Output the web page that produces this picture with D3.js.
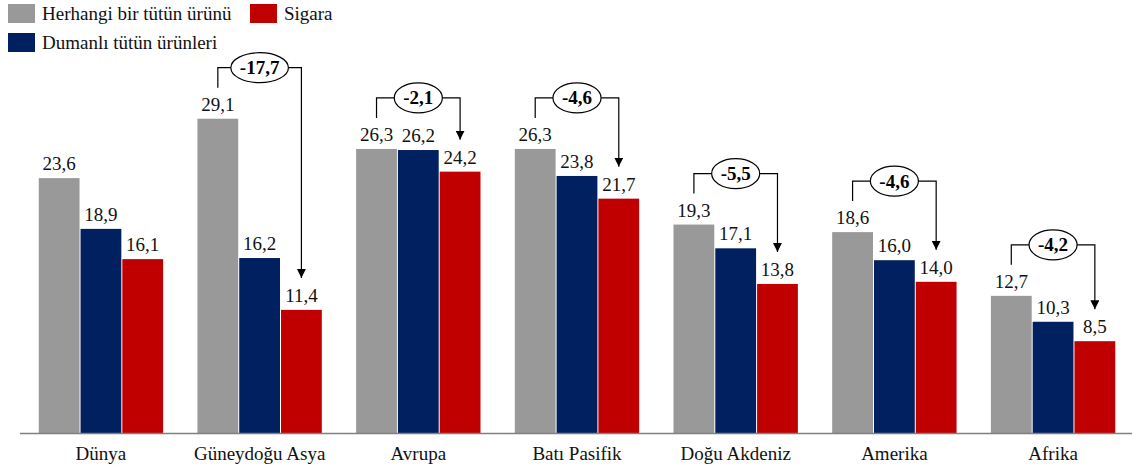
<!DOCTYPE html>
<html>
<head>
<meta charset="utf-8">
<script src="https://cdn.jsdelivr.net/npm/d3@7"></script>
<style>
  html, body { margin: 0; padding: 0; background: #fff; }
  svg { display: block; }
  svg text { font-family: "Liberation Serif", "Times New Roman", serif; }
</style>
</head>
<body>
<svg id="chart" width="1132" height="471"></svg>
<script>
// Regions and tobacco-use prevalence (%)
const categories = ["Dünya", "Güneydoğu Asya", "Avrupa", "Batı Pasifik", "Doğu Akdeniz", "Amerika", "Afrika"];
const seriesNames = ["Herhangi bir tütün ürünü", "Dumanlı tütün ürünleri", "Sigara"];
const anyTobacco = [23.6, 29.1, 26.3, 26.3, 19.3, 18.6, 12.7];
const smokedTobacco = [18.9, 16.2, 26.2, 23.8, 17.1, 16.0, 10.3];
const cigarettes = [16.1, 11.4, 24.2, 21.7, 13.8, 14.0, 8.5];
// Gap between any tobacco and cigarettes (null = no callout)
const gapLabels = [null, "-17,7", "-2,1", "-4,6", "-5,5", "-4,6", "-4,2"];

const colors = ["#999999", "#002060", "#C00000"];
const seriesValues = [anyTobacco, smokedTobacco, cigarettes];
const fmt = v => d3.format(".1f")(v).replace(".", ",");
const serif = "\"Liberation Serif\", \"Times New Roman\", serif";

const svg = d3.select("#chart");
const baseY = 433;

const x0 = d3.scaleBand().domain(categories).range([20, 1134]).paddingInner(0.21).paddingOuter(0.115);
const x1 = d3.scaleBand().domain(d3.range(3)).range([0, x0.bandwidth()]).padding(0);
const y = d3.scaleLinear().domain([0, 40]).range([baseY, baseY - 40 * 10.8]);

const fontSize = 19;

// Bars
const groups = svg.append("g").selectAll("g")
  .data(categories)
  .join("g")
  .attr("transform", d => `translate(${x0(d)},0)`);

groups.each(function(cat, i) {
  const g = d3.select(this);
  seriesValues.forEach((vals, s) => {
    const v = vals[i];
    g.append("rect")
      .attr("x", x1(s) + 0.5)
      .attr("y", y(v))
      .attr("width", x1.bandwidth() - 1)
      .attr("height", baseY - y(v))
      .attr("fill", colors[s]);
    g.append("text")
      .attr("x", x1(s) + x1.bandwidth() / 2)
      .attr("y", y(v) - 8)
      .attr("text-anchor", "middle")
      .attr("font-size", fontSize)
      .attr("font-family", serif)
      .attr("fill", "#111")
      .text(fmt(v));
  });
});

// Category axis
const xAxis = svg.append("g")
  .attr("transform", `translate(0,${baseY})`)
  .call(d3.axisBottom(x0).tickSize(0).tickPadding(0));
xAxis.attr("font-family", serif);
xAxis.select(".domain").attr("stroke", "#808080").attr("stroke-width", 1.5).attr("d", "M20,0.5H1132");
xAxis.selectAll(".tick text")
  .attr("dy", null)
  .attr("y", 27)
  .attr("font-size", fontSize)
  .attr("font-family", serif)
  .attr("fill", "#111");

// Gap callouts: bracket from the first bar, ellipse label, arrow down to the cigarette bar
const defs = svg.append("defs");
defs.append("marker")
  .attr("id", "arrowHead")
  .attr("viewBox", "0 0 10 10")
  .attr("refX", 10).attr("refY", 5)
  .attr("markerWidth", 9).attr("markerHeight", 9)
  .attr("markerUnits", "userSpaceOnUse")
  .attr("orient", "auto")
  .append("path").attr("d", "M0,0L10,5L0,10Z").attr("fill", "#000");

const callouts = svg.append("g");
categories.forEach((cat, i) => {
  const label = gapLabels[i];
  if (!label) return;
  const gx = x0(cat) + x1(0) + x1.bandwidth() / 2;
  const mx = x0(cat) + x1(1) + x1.bandwidth() / 2;
  const rx = x0(cat) + x1(2) + x1.bandwidth() / 2;
  const topY = y(anyTobacco[i]);
  const lineY = topY - 51;
  const startY = topY - 31;
  const endY = y(cigarettes[i]) - 32;

  const t = callouts.append("text")
    .attr("x", mx)
    .attr("y", lineY + 6.5)
    .attr("text-anchor", "middle")
    .attr("font-size", fontSize)
    .attr("font-family", serif)
    .attr("font-weight", "bold")
    .attr("fill", "#000")
    .text(label);
  const w = t.node().getComputedTextLength();
  const ex = w / 2 + 9;
  const ey = 15;

  callouts.append("path")
    .attr("d", `M${gx},${startY}V${lineY}H${mx - ex}`)
    .attr("fill", "none").attr("stroke", "#000").attr("stroke-width", 1.2);
  callouts.append("path")
    .attr("d", `M${mx + ex},${lineY}H${rx}V${endY}`)
    .attr("fill", "none").attr("stroke", "#000").attr("stroke-width", 1.2)
    .attr("marker-end", "url(#arrowHead)");
  callouts.insert("ellipse", "text")
    .attr("cx", mx).attr("cy", lineY)
    .attr("rx", ex).attr("ry", ey)
    .attr("fill", "#fff").attr("stroke", "#000").attr("stroke-width", 1.2);
});

// Legend
const legendItems = [
  { name: seriesNames[0], color: colors[0], x: 8, y: 4 },
  { name: seriesNames[2], color: colors[2], x: 250, y: 4 },
  { name: seriesNames[1], color: colors[1], x: 8, y: 33 }
];
const legend = svg.append("g").selectAll("g").data(legendItems).join("g")
  .attr("transform", d => `translate(${d.x},${d.y})`);
legend.append("rect").attr("width", 27).attr("height", 19).attr("fill", d => d.color);
legend.append("text")
  .attr("x", 34).attr("y", 16)
  .attr("font-size", fontSize)
  .attr("font-family", serif)
  .attr("fill", "#111")
  .text(d => d.name);
</script>
</body>
</html>
